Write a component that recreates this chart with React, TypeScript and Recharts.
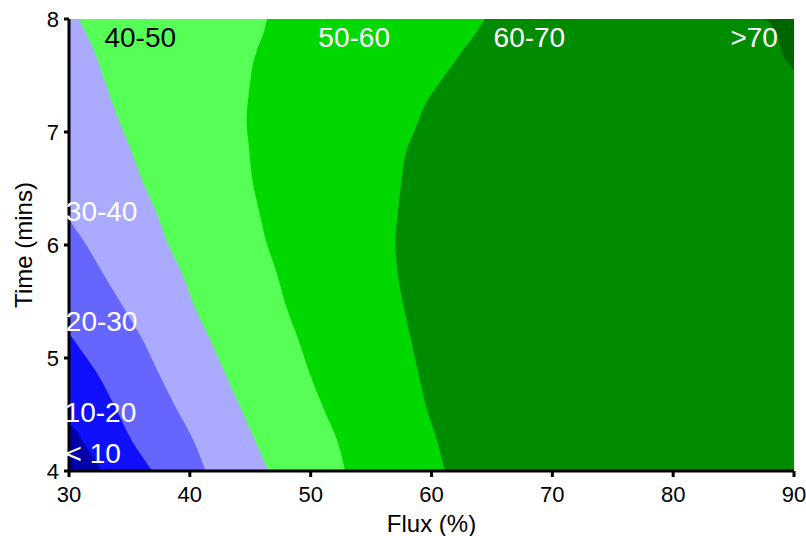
import React from 'react';
import { ComposedChart, Area, XAxis, YAxis, ReferenceDot, Label } from 'recharts';

type Edge = { t: number; v: number };

const fluxTicks = [30, 40, 50, 60, 70, 80, 90];
const timeTicks = [4, 5, 6, 7, 8];

const bandNames = ['< 10', '10-20', '20-30', '30-40', '40-50', '50-60', '60-70', '>70'];
const bandColors = ['#0000aa', '#1010ff', '#6666ff', '#aaaaff', '#55ff55', '#00d800', '#008c00', '#006400'];
const bandTextColors = ['#fff', '#fff', '#fff', '#fff', '#000', '#fff', '#fff', '#fff'];

// Upper flux edge (v, %) of each band as a function of time (t, mins)
const edgeBelow10: Edge[] = [
  { t: 4.0, v: 32.7 }, { t: 4.12, v: 32.0 }, { t: 4.27, v: 31.1 }, { t: 4.36, v: 30.6 }, { t: 4.42, v: 30.0 },
];
const edge10to20: Edge[] = [
  { t: 4.0, v: 36.9 }, { t: 4.27, v: 35.2 }, { t: 4.57, v: 33.8 }, { t: 4.87, v: 32.3 }, { t: 5.1, v: 30.8 },
  { t: 5.22, v: 30.0 },
];
const edge20to30: Edge[] = [
  { t: 4.0, v: 41.3 }, { t: 4.27, v: 40.3 }, { t: 4.57, v: 38.8 }, { t: 4.87, v: 37.4 }, { t: 5.16, v: 36.1 },
  { t: 5.45, v: 34.5 }, { t: 5.75, v: 32.8 }, { t: 6.04, v: 31.2 }, { t: 6.2, v: 30.2 }, { t: 6.25, v: 30.0 },
];
const edge30to40: Edge[] = [
  { t: 4.0, v: 46.5 }, { t: 4.27, v: 45.4 }, { t: 4.57, v: 44.15 }, { t: 4.87, v: 42.9 }, { t: 5.16, v: 41.7 },
  { t: 5.45, v: 40.4 }, { t: 5.75, v: 39.35 }, { t: 6.03, v: 38.1 }, { t: 6.27, v: 37.3 }, { t: 6.56, v: 36.1 },
  { t: 6.86, v: 35.05 }, { t: 7.15, v: 33.95 }, { t: 7.44, v: 33.0 }, { t: 7.74, v: 32.0 }, { t: 8.0, v: 30.8 },
];
const edge40to50: Edge[] = [
  { t: 4.0, v: 52.85 }, { t: 4.27, v: 52.2 }, { t: 4.57, v: 51.0 }, { t: 4.87, v: 49.9 }, { t: 5.16, v: 49.0 },
  { t: 5.45, v: 48.0 }, { t: 5.75, v: 47.2 }, { t: 6.04, v: 46.3 }, { t: 6.27, v: 45.8 }, { t: 6.56, v: 45.2 },
  { t: 6.86, v: 44.9 }, { t: 7.1, v: 44.7 }, { t: 7.44, v: 45.0 }, { t: 7.59, v: 45.2 }, { t: 7.74, v: 45.6 },
  { t: 7.86, v: 46.05 }, { t: 8.0, v: 46.4 },
];
const edge50to60: Edge[] = [
  { t: 4.0, v: 61.1 }, { t: 4.27, v: 60.45 }, { t: 4.57, v: 59.55 }, { t: 4.87, v: 58.9 }, { t: 5.16, v: 58.3 },
  { t: 5.45, v: 57.7 }, { t: 5.75, v: 57.2 }, { t: 6.04, v: 57.0 }, { t: 6.27, v: 57.2 }, { t: 6.56, v: 57.5 },
  { t: 6.86, v: 58.0 }, { t: 7.0, v: 58.55 }, { t: 7.15, v: 59.1 }, { t: 7.29, v: 59.7 }, { t: 7.44, v: 60.7 },
  { t: 7.59, v: 61.7 }, { t: 7.74, v: 62.7 }, { t: 7.88, v: 63.7 }, { t: 8.0, v: 64.4 },
];
const edge60to70: Edge[] = [
  { t: 4.0, v: 90 }, { t: 7.54, v: 90 }, { t: 7.57, v: 89.8 }, { t: 7.66, v: 89.2 }, { t: 7.75, v: 88.9 },
  { t: 7.89, v: 88.5 }, { t: 8.0, v: 87.7 },
];
const edgeAbove70: Edge[] = [
  { t: 4.0, v: 90 }, { t: 8.0, v: 90 },
];

const bandEdges = [edgeBelow10, edge10to20, edge20to30, edge30to40, edge40to50, edge50to60, edge60to70, edgeAbove70];

// Where each band name is written (flux %, time mins)
const labelFlux = [32.0, 32.6, 32.7, 32.7, 35.9, 53.6, 68.1, 86.7];
const labelTime = [4.16, 4.52, 5.33, 6.3, 7.84, 7.84, 7.84, 7.84];

const font = "'Liberation Sans', Arial, sans-serif";

const YTitle = (props: any) => {
  const vb = props.viewBox;
  const cx = 23;
  const cy = vb.y + vb.height / 2;
  return (
    <text x={cx} y={cy} transform={`rotate(-90 ${cx} ${cy})`} textAnchor="middle" dominantBaseline="central"
      fontSize={24} fill="#000" fontFamily={font}>
      Time (mins)
    </text>
  );
};

const XTitle = (props: any) => {
  const vb = props.viewBox;
  const cx = vb.x + vb.width / 2;
  return (
    <text x={cx} y={523} textAnchor="middle" dominantBaseline="central" fontSize={24} fill="#000" fontFamily={font}>
      Flux (%)
    </text>
  );
};

export default function App() {
  const order = [7, 6, 5, 4, 3, 2, 1, 0];
  return (
    <div style={{ position: 'absolute', left: 0, top: 0, width: 806, height: 536, background: '#fff' }}>
      <ComposedChart width={806} height={536} layout="vertical" margin={{ top: 19, right: 12, bottom: 0, left: 0 }}
        style={{ fontFamily: font }}>
        {order.map((i) => (
          <Area key={bandNames[i]} data={bandEdges[i]} dataKey="v" type="monotone" baseValue={30}
            stroke="none" fill={bandColors[i]} fillOpacity={1} isAnimationActive={false} />
        ))}
        <XAxis type="number" dataKey="v" domain={[30, 90]} ticks={fluxTicks} allowDataOverflow height={65}
          axisLine={{ stroke: '#000', strokeWidth: 3 }} tickLine={{ stroke: '#000', strokeWidth: 3 }}
          tickSize={6} tickMargin={9} tick={{ fill: '#000', fontSize: 22, fontFamily: font }}>
          <Label content={XTitle} />
        </XAxis>
        <XAxis xAxisId="top" orientation="top" type="number" domain={[30, 90]} height={0} tick={false}
          tickLine={false} axisLine={{ stroke: '#000', strokeWidth: 3 }} />
        <YAxis type="number" dataKey="t" domain={[4, 8]} ticks={timeTicks} allowDataOverflow width={69} reversed
          axisLine={{ stroke: '#000', strokeWidth: 3 }} tickLine={{ stroke: '#000', strokeWidth: 3 }}
          tickSize={5} tickMargin={5} tick={{ fill: '#000', fontSize: 22, fontFamily: font }}>
          <Label content={YTitle} />
        </YAxis>
        <YAxis yAxisId="right" orientation="right" type="number" domain={[4, 8]} width={0} tick={false} reversed
          tickLine={false} axisLine={{ stroke: '#000', strokeWidth: 3 }} />
        {bandNames.map((name, i) => (
          <ReferenceDot key={'lbl' + name} x={labelFlux[i]} y={labelTime[i]} r={0} fill="none" stroke="none"
            label={{ value: name, position: 'center', fill: bandTextColors[i], fontSize: 28, fontFamily: font }} />
        ))}
      </ComposedChart>
    </div>
  );
}
